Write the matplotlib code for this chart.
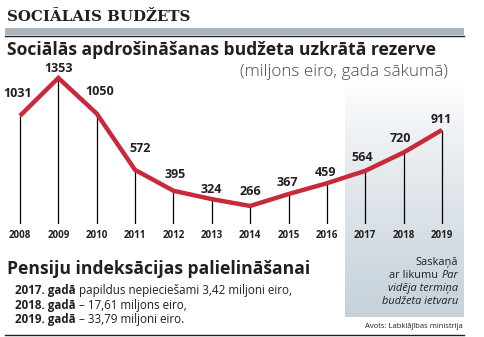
import matplotlib
matplotlib.use("Agg")
import matplotlib.pyplot as plt
import numpy as np

years = ["2008", "2009", "2010", "2011", "2012", "2013", "2014", "2015", "2016", "2017", "2018", "2019"]
values = [1031, 1353, 1050, 572, 395, 324, 266, 367, 459, 564, 720, 911]

W, H = 484, 337
fig = plt.figure(figsize=(W / 100, H / 100), dpi=100)
fig.patch.set_facecolor("white")

def fx(x):
    return x / W

def fy(y):
    return 1 - y / H

DARK = "#231f20"
RED = "#c82a3b"
FONT = "Open Sans"
PT = 0.72  # points per pixel

# shaded forecast panel (gradient)
ax_bg = fig.add_axes([fx(345), fy(317), fx(464) - fx(345), fy(85) - fy(317)])
grad = np.linspace(0, 1, 256).reshape(-1, 1)
top = np.array([1.0, 1.0, 1.0])
bot = np.array([0xc6, 0xd1, 0xda]) / 255
img = top + (bot - top) * (grad ** 0.8)[:, :, None] * np.ones((1, 1, 3))
ax_bg.imshow(img, aspect="auto", extent=[0, 1, 0, 1], origin="upper")
ax_bg.axis("off")

# chart axes: x px = 20 + i*38.36 ; y px = 237.3 - v*0.1178
px_per_i = 38.36
x0 = 20
left_i = (0 - x0) / px_per_i
right_i = (W - x0) / px_per_i
ypx_bottom, ypx_top = 224, 60
k = 0.1178
v_bottom = (237.3 - ypx_bottom) / k
v_top = (237.3 - ypx_top) / k
ax = fig.add_axes([0, fy(ypx_bottom), 1, fy(ypx_top) - fy(ypx_bottom)])
ax.set_xlim(left_i, right_i)
ax.set_ylim(v_bottom, v_top)
ax.axis("off")
ax.patch.set_alpha(0)

xs = np.arange(len(years))
ax.vlines(xs, v_bottom, values, color="black", lw=0.9, zorder=2)
ax.plot(xs, values, color=RED, lw=3.2, solid_capstyle="butt", solid_joinstyle="miter", zorder=3)

# label offsets in pixels (dx, dy upward) from each point to label centre
offs = [(-2, 22), (0, 9), (3, 22), (5, 21), (2, 16), (0, 10), (0, 14), (-1, 12), (-1, 11), (-3, 13), (-3, 14), (-1, 10)]
for i, v in enumerate(values):
    dx, dy = offs[i]
    ax.annotate(str(v), (i, v), xytext=(dx * PT, dy * PT), textcoords="offset points",
                ha="center", va="center", fontsize=9, fontweight="bold", color=DARK,
                family=FONT, annotation_clip=False)
for i, y in enumerate(years):
    ax.annotate(y, (i, v_bottom), xytext=(0, -11 * PT), textcoords="offset points",
                ha="center", va="center", fontsize=7, fontweight="bold", color=DARK,
                family=FONT, annotation_clip=False)

# header
fig.text(fx(7), fy(21), "SOCIĀLAIS BUDŽETS", ha="left", va="baseline", fontsize=10.8,
         fontweight="bold", color=DARK, family="DejaVu Serif")
fig.patches.append(plt.Rectangle((fx(5), fy(35)), fx(464) - fx(5), fy(28) - fy(35),
                                 transform=fig.transFigure, facecolor="#aab5c0", edgecolor="none"))
fig.lines.append(plt.Line2D([fx(5), fx(464)], [fy(35.5), fy(35.5)], transform=fig.transFigure,
                            color=DARK, lw=1.0))
fig.text(fx(7), fy(55), "Sociālās apdrošināšanas budžeta uzkrātā rezerve", ha="left", va="baseline",
         fontsize=12.6, fontweight="bold", color=DARK, family=FONT)
fig.text(fx(448), fy(76), "(miljons eiro, gada sākumā)", ha="right", va="baseline",
         fontsize=12.3, fontweight="light", color="#4a4a4a", family=FONT)

# bottom texts
fig.text(fx(7), fy(274), "Pensiju indeksācijas palielināšanai", ha="left", va="baseline",
         fontsize=12.6, fontweight="bold", color=DARK, family=FONT)

renderer = fig.canvas.get_renderer()

def mixed(x, y, parts, size=8.4):
    cur = x
    for txt, weight in parts:
        t = fig.text(fx(cur), fy(y), txt, ha="left", va="baseline", fontsize=size,
                     fontweight=weight, color=DARK, family=FONT)
        bb = t.get_window_extent(renderer=renderer)
        cur += bb.width

mixed(15, 294, [("2017. gadā", "bold"), (" papildus nepieciešami 3,42 miljoni eiro,", "normal")])
mixed(15, 309, [("2018. gadā", "bold"), (" – 17,61 miljons eiro,", "normal")])
mixed(15, 323, [("2019. gadā", "bold"), (" – 33,79 miljoni eiro.", "normal")])

# right note
rx = 458
fs = 7.9
fig.text(fx(rx), fy(265), "Saskaņā", ha="right", va="baseline", fontsize=fs, color=DARK, family=FONT)
t = fig.text(fx(rx), fy(278.5), "Par", ha="right", va="baseline", fontsize=fs, color=DARK,
             family=FONT, style="italic")
wpar = t.get_window_extent(renderer=renderer).width
fig.text(fx(rx - wpar), fy(278.5), "ar likumu ", ha="right", va="baseline", fontsize=fs, color=DARK,
         family=FONT)
fig.text(fx(rx), fy(291.5), "vidēja termiņa", ha="right", va="baseline", fontsize=fs, color=DARK,
         family=FONT, style="italic")
fig.text(fx(rx), fy(304.5), "budžeta ietvaru", ha="right", va="baseline", fontsize=fs, color=DARK,
         family=FONT, style="italic")
fig.text(fx(463), fy(328), "Avots: Labklājības ministrija", ha="right", va="baseline", fontsize=5.5,
         color=DARK, family=FONT)
fig.lines.append(plt.Line2D([fx(5), fx(464)], [fy(335), fy(335)], transform=fig.transFigure,
                            color=DARK, lw=1.0))

fig.savefig("out.png", dpi=100, facecolor="white")
